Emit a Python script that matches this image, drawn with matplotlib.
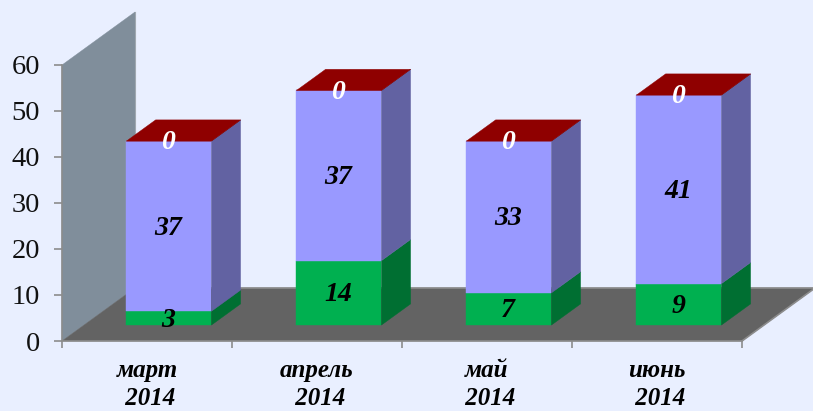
import matplotlib
matplotlib.use("Agg")
import matplotlib.pyplot as plt

months = ["март", "апрель", "май", "июнь"]
years = ["2014", "2014", "2014", "2014"]
green_vals = [3, 14, 7, 9]
blue_vals = [37, 37, 33, 41]
red_vals = [0, 0, 0, 0]
y_ticks = [0, 10, 20, 30, 40, 50, 60]

bg = "#E9EFFF"
line_col = "#8C8C8C"
font = "Liberation Serif"

# depth of the box, in axis units
depth_x = 73 / 170
depth_y = 53 / 4.6
bar_w = 85 / 170
bar_d0 = 0.30
bar_d1 = 0.70


def proj(x, y, d):
    return x + d * depth_x, y + d * depth_y


def face(pts, color, z):
    xs = [p[0] for p in pts]
    ys = [p[1] for p in pts]
    ax.fill(xs, ys, color=color, lw=0.3, zorder=z)


fig = plt.figure(figsize=(8.13, 4.11), dpi=100, facecolor=bg)
ax = fig.add_axes([0, 0, 1, 1], facecolor=bg)
ax.set_xlim(-62 / 170, (813 - 62) / 170)
ax.set_ylim(-(411 - 341) / 4.6, 341 / 4.6)

# wall and floor
face([proj(0, 0, 0), proj(0, 60, 0), proj(0, 60, 1), proj(0, 0, 1)], "#808E9B", 1)
n = len(months)
face([proj(0, 0, 0), proj(n, 0, 0), proj(n, 0, 1), proj(0, 0, 1)], "#636363", 2)
ax.plot(*zip(proj(n, 0, 0), proj(n, 0, 1), proj(0, 0, 1)), color=line_col, lw=1.2, zorder=2)
ax.plot(*zip(proj(0, 0, 1), proj(0, 60, 1)), color="#A0A8B0", lw=0.8, zorder=1)

for i in range(n):
    x0 = i + 0.5 - bar_w / 2
    x1 = i + 0.5 + bar_w / 2
    base = 0
    for val, front, side, txt_col in zip(
        [green_vals[i], blue_vals[i], red_vals[i]],
        ["#00B050", "#9999FF", "#8F0000"],
        ["#006F32", "#6262A2", "#5A0000"],
        ["black", "black", "white"],
    ):
        top = base + val
        a = proj(x0, base, bar_d0)
        b = proj(x1, base, bar_d0)
        c = proj(x1, top, bar_d0)
        d = proj(x0, top, bar_d0)
        e = proj(x1, base, bar_d1)
        f = proj(x1, top, bar_d1)
        face([a, b, c, d], front, 3)
        face([b, e, f, c], side, 3)
        cx, cy = proj(i + 0.5, (base + top) / 2, bar_d0)
        ax.text(cx - 0.005, cy - 0.4, str(val), color=txt_col, family=font, style="italic",
                weight="bold", fontsize=20, ha="center", va="center", zorder=5)
        base = top
    # only the top face of the last series shows
    face([proj(x0, base, bar_d0), proj(x1, base, bar_d0),
          proj(x1, base, bar_d1), proj(x0, base, bar_d1)], "#8F0000", 4)

for s in ["top", "right"]:
    ax.spines[s].set_visible(False)
ax.spines["left"].set_position(("data", 0))
ax.spines["bottom"].set_position(("data", 0))
ax.spines["left"].set_bounds(0, 60)
ax.spines["bottom"].set_bounds(0, n)
for s in ["left", "bottom"]:
    ax.spines[s].set_color(line_col)
    ax.spines[s].set_linewidth(1.2)
    ax.spines[s].set_zorder(4)

ax.set_yticks(y_ticks)
ax.set_yticklabels([str(v) for v in y_ticks], family=font, fontsize=20.5, color="#111111")
ax.tick_params(axis="y", length=6, width=1.2, color=line_col, pad=10)
ax.set_xticks(range(n + 1))
ax.set_xticklabels([])
ax.tick_params(axis="x", which="major", length=5, width=1.2, color=line_col)
ax.set_xticks([i + 0.5 for i in range(n)], minor=True)
ax.set_xticklabels([m + "\n " + y for m, y in zip(months, years)], minor=True,
                   family=font, style="italic", weight="bold", fontsize=18,
                   linespacing=1.25)
ax.tick_params(axis="x", which="minor", length=0, pad=13)

fig.savefig("out.png", dpi=100, facecolor=bg)
